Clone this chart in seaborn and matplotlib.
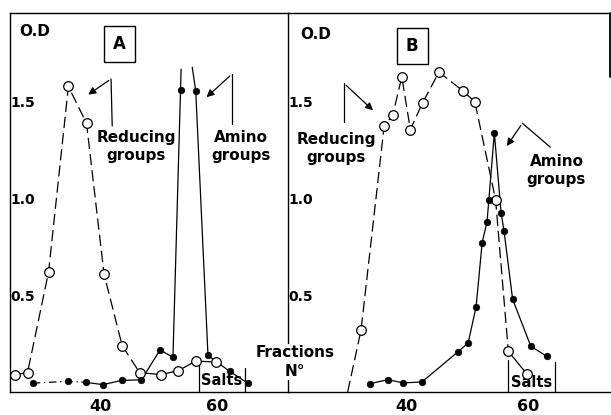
import numpy as np
import pandas as pd
import matplotlib
matplotlib.use("Agg")
import matplotlib.pyplot as plt
import seaborn as sns

sns.set_theme(style="white")
plt.rcParams['font.family'] = ['DejaVu Sans']
plt.rcParams['font.weight'] = 'bold'
plt.rcParams['text.color'] = 'black'
plt.rcParams['xtick.color'] = 'black'
plt.rcParams['ytick.color'] = 'black'

# --- panel A ---
red_A_frac = [25.5, 27.6, 31.2, 34.6, 37.7, 40.7, 43.8, 46.8, 50.4, 53.4, 56.4, 59.8]
red_A_od = [0.09, 0.10, 0.62, 1.58, 1.39, 0.61, 0.24, 0.10, 0.09, 0.11, 0.16, 0.155]
ami_A_frac = [28.5, 34.5, 37.6, 40.5, 43.7, 47.1, 50.3, 52.5, 53.8, 56.4, 58.5, 62.2, 65.3]
ami_A_od = [0.046, 0.055, 0.05, 0.038, 0.06, 0.063, 0.218, 0.179, 1.563, 1.558, 0.189, 0.107, 0.046]
# off-scale peak: where the drawn lines stop
ami_A_peak_frac = [53.9, 55.8]
ami_A_peak_od = [1.67, 1.68]

# --- panel B ---
red_B_frac = [30.3, 32.5, 36.3, 37.7, 39.2, 40.6, 42.6, 45.3, 49.3, 51.2, 54.6, 56.7, 59.7]
red_B_od = [0.0, 0.32, 1.376, 1.431, 1.63, 1.357, 1.495, 1.654, 1.556, 1.50, 0.995, 0.21, 0.095]
ami_B_frac = [34.0, 36.9, 39.4, 42.5, 48.4, 50.1, 51.4, 52.4, 53.2, 53.5, 54.4, 55.5, 56.0, 57.4, 60.4, 63.0]
ami_B_od = [0.043, 0.064, 0.047, 0.052, 0.207, 0.254, 0.44, 0.773, 0.88, 0.995, 1.34, 0.928, 0.831, 0.48, 0.236, 0.185]

W, H = 611, 415
fig = plt.figure(figsize=(W / 100, H / 100), dpi=100)
axA = fig.add_axes([10 / W, 23 / H, 278 / W, 379 / H])
axB = fig.add_axes([288 / W, 23 / H, 322 / W, 379 / H])

lw = 0.9
dash = (0, (9, 4))
fs = 11


def line(ax, x, y, ls):
    sns.lineplot(x=x, y=y, ax=ax, color='black', lw=lw, linestyle=ls,
                 sort=False, estimator=None)


def open_pts(ax, x, y):
    sns.scatterplot(x=x, y=y, ax=ax, marker='o', s=48, facecolor='white',
                    edgecolor='black', linewidth=0.9, zorder=4)


def filled_pts(ax, x, y):
    sns.scatterplot(x=x, y=y, ax=ax, marker='o', s=22, color='black',
                    edgecolor='black', linewidth=0.5, zorder=4)


def arrow(ax, tip, tail):
    ax.annotate('', xy=tip, xytext=tail,
                arrowprops=dict(arrowstyle='-|>', color='black', lw=lw, mutation_scale=11))


# panel A lines
line(axA, red_A_frac[:8], red_A_od[:8], dash)
line(axA, red_A_frac[7:], red_A_od[7:], '-')
line(axA, ami_A_frac[:3], ami_A_od[:3], (0, (6, 3, 1, 3)))
line(axA, ami_A_frac[2:9] + [ami_A_peak_frac[0]], ami_A_od[2:9] + [ami_A_peak_od[0]], '-')
line(axA, [ami_A_peak_frac[1]] + ami_A_frac[9:], [ami_A_peak_od[1]] + ami_A_od[9:], '-')
open_pts(axA, red_A_frac, red_A_od)
filled_pts(axA, ami_A_frac, ami_A_od)

# panel B lines
line(axB, red_B_frac[:12], red_B_od[:12], dash)
line(axB, red_B_frac[11:], red_B_od[11:], '-')
line(axB, ami_B_frac, ami_B_od, '-')
open_pts(axB, red_B_frac[1:], red_B_od[1:])
filled_pts(axB, ami_B_frac, ami_B_od)

axA.set_xlim(24.6, 72.2)
axB.set_xlim(20.5, 73.4)
for ax in (axA, axB):
    ax.set_ylim(0, 1.96)
    ax.set_xticks([40, 60])
    ax.set_yticks([0.5, 1.0, 1.5])
    ax.set_yticklabels(['0.5', '1.0', '1.5'])
    ax.tick_params(axis='x', direction='inout', length=6, width=1, labelsize=fs + 0.5, pad=2)
    ax.tick_params(axis='y', direction='inout', length=6, width=1, labelsize=fs - 1, pad=-3)
    for lab in ax.get_yticklabels():
        lab.set_horizontalalignment('left')
    for s in ax.spines.values():
        s.set_color('black')
        s.set_linewidth(1)
    ax.set_xlabel('')
    ax.set_ylabel('')
    ax.patch.set_alpha(0)
axA.spines['right'].set_visible(False)
axB.spines['right'].set_visible(False)
axB.axvline(73.4, ymin=0.83, ymax=1, color='black', lw=1.3, clip_on=False)

# labels and annotations, panel A
axA.text(28.9, 1.866, 'O.D', fontsize=fs, ha='center', va='center')
axA.text(43.4, 1.80, 'A', fontsize=fs + 1, ha='center', va='center',
         bbox=dict(boxstyle='square,pad=0.55', fc='white', ec='black', lw=1))
axA.text(46.2, 1.27, 'Reducing\ngroups', fontsize=fs, ha='center', va='center', linespacing=1.25)
axA.text(64.1, 1.27, 'Amino\ngroups', fontsize=fs, ha='center', va='center', linespacing=1.25)
axA.plot([42.1, 41.9], [1.376, 1.619], color='black', lw=lw)
arrow(axA, (37.6, 1.53), (41.9, 1.619))
axA.plot([62.6, 62.6], [1.387, 1.644], color='black', lw=lw)
arrow(axA, (57.9, 1.515), (62.6, 1.644))
axA.plot([56.9, 56.9], [0, 0.16], color='black', lw=lw)
axA.plot([64.8, 64.8], [0, 0.124], color='black', lw=lw)
axA.text(60.9, 0.057, 'Salts', fontsize=fs - 0.5, ha='center', va='center')

# labels and annotations, panel B
axB.text(25.1, 1.85, 'O.D', fontsize=fs, ha='center', va='center')
axB.text(40.9, 1.79, 'B', fontsize=fs + 1, ha='center', va='center',
         bbox=dict(boxstyle='square,pad=0.55', fc='white', ec='black', lw=1))
axB.text(28.4, 1.26, 'Reducing\ngroups', fontsize=fs, ha='center', va='center', linespacing=1.25)
axB.text(64.6, 1.146, 'Amino\ngroups', fontsize=fs, ha='center', va='center', linespacing=1.25)
axB.plot([29.7, 29.7], [1.395, 1.596], color='black', lw=lw)
arrow(axB, (34.8, 1.447), (29.7, 1.596))
axB.plot([63.6, 59.0], [1.266, 1.390], color='black', lw=lw)
arrow(axB, (56.2, 1.26), (59.0, 1.390))
axB.plot([56.7, 56.7], [0, 0.164], color='black', lw=lw)
axB.plot([64.4, 64.4], [0, 0.154], color='black', lw=lw)
axB.text(60.6, 0.05, 'Salts', fontsize=fs - 0.5, ha='center', va='center')

fig.text(295 / W, 1 - 362 / H, 'Fractions\nN°', fontsize=fs, ha='center', va='center',
         linespacing=1.3, bbox=dict(fc='white', ec='none', pad=1), zorder=10)

fig.savefig('out.png', dpi=100, facecolor='white')
